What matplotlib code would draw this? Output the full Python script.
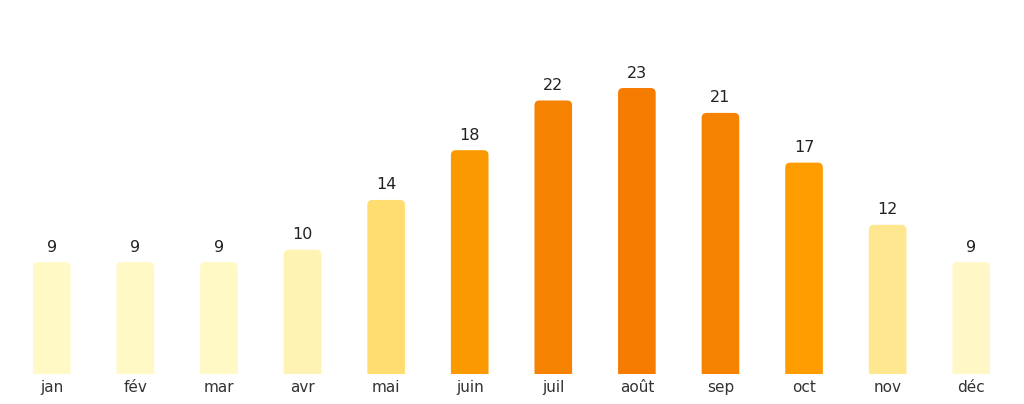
import matplotlib.pyplot as plt
from matplotlib.patches import FancyBboxPatch

months = ['jan', 'fév', 'mar', 'avr', 'mai', 'juin', 'juil', 'août',
          'sep', 'oct', 'nov', 'déc']
temps = [9, 9, 9, 10, 14, 18, 22, 23, 21, 17, 12, 9]
colors = ['#FFF9C6', '#FFF9C6', '#FFF9C6', '#FFF3B3', '#FFDD70', '#FB9900',
          '#F58200', '#F57C00', '#F58200', '#FF9D00', '#FFE78F', '#FFF8C6']

fig = plt.figure(figsize=(10.24, 4.04), dpi=100)
ax = fig.add_axes([10/1024, 30/404, 1003/1024, 373/404])

width = 0.45
for i, (t, c) in enumerate(zip(temps, colors)):
    # one rounded box per bar, bottom corners pushed below the axis and clipped
    bar = FancyBboxPatch((i - width/2, -2), width, t + 2,
                         boxstyle='round,pad=0,rounding_size=0.06',
                         mutation_aspect=6.7, fc=c, ec='none')
    ax.add_patch(bar)
    ax.text(i, t + 0.6, str(t), ha='center', va='bottom', fontsize=11.5,
            color='#222222')

ax.set_xlim(-0.5, 11.5)
ax.set_ylim(0, 30)
ax.set_xticks(range(len(months)))
ax.set_xticklabels(months, fontsize=11, color='#333333')
ax.tick_params(axis='x', length=0, pad=4)
ax.set_yticks([])
for s in ax.spines.values():
    s.set_visible(False)

fig.savefig('out.png', dpi=100)
